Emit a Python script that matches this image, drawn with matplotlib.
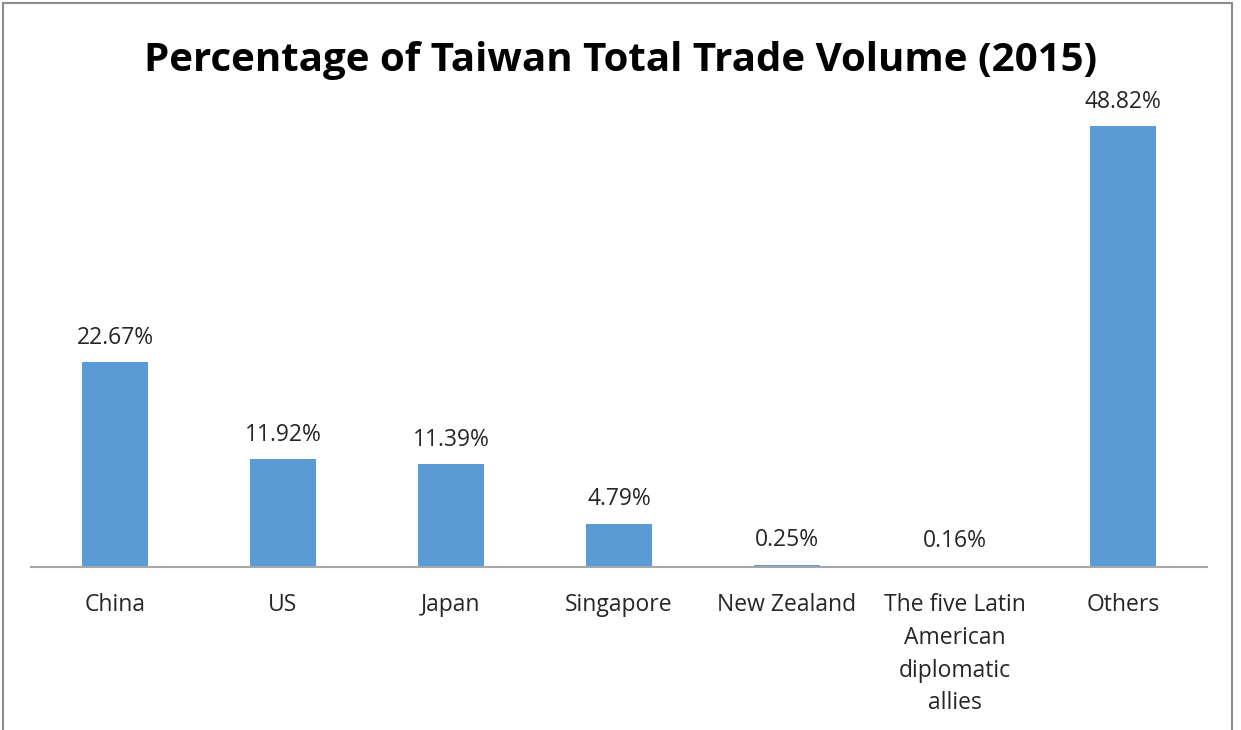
import matplotlib
matplotlib.use('Agg')
import matplotlib.pyplot as plt
from matplotlib.patches import Rectangle

# data
categories = ['China', 'US', 'Japan', 'Singapore', 'New Zealand',
              'The five Latin\nAmerican\ndiplomatic\nallies', 'Others']
shares = [22.67, 11.92, 11.39, 4.79, 0.25, 0.16, 48.82]

plt.rcParams['font.family'] = ['Open Sans', 'DejaVu Sans']

fig = plt.figure(figsize=(12.41, 7.30), dpi=100)
ax = fig.add_axes([31 / 1241, 163 / 730, 1176 / 1241, 451.5 / 730])

x = range(len(categories))
ax.bar(x, shares, width=0.387, color='#5B9BD5')
for i, v in zip(x, shares):
    ax.annotate('%.2f%%' % v, (i, v), xytext=(0, 9), textcoords='offset points',
                ha='center', va='bottom', fontsize=16.5, color='#262626')

ax.set_xlim(-0.5, 6.5)
ax.set_ylim(0, 50)
ax.set_xticks(list(x))
ax.set_xticklabels(categories, fontsize=16.5, color='#262626', linespacing=1.48)
ax.tick_params(axis='x', length=0, pad=19)
ax.set_yticks([])
for s in ['top', 'right', 'left']:
    ax.spines[s].set_visible(False)
ax.spines['bottom'].set_color('#A6A6A6')
ax.spines['bottom'].set_linewidth(1.5)

fig.text(0.5, 1 - 60 / 730, 'Percentage of Taiwan Total Trade Volume (2015)',
         ha='center', va='center', fontsize=29, fontweight='bold', color='black')

# outer chart border
fig.patches.append(Rectangle((3 / 1241, -0.01), 1229 / 1241, 1 - 3 / 730 + 0.01,
                             transform=fig.transFigure, fill=False,
                             edgecolor='#8C8C8C', linewidth=1.5))

fig.savefig('out.png', dpi=100)
